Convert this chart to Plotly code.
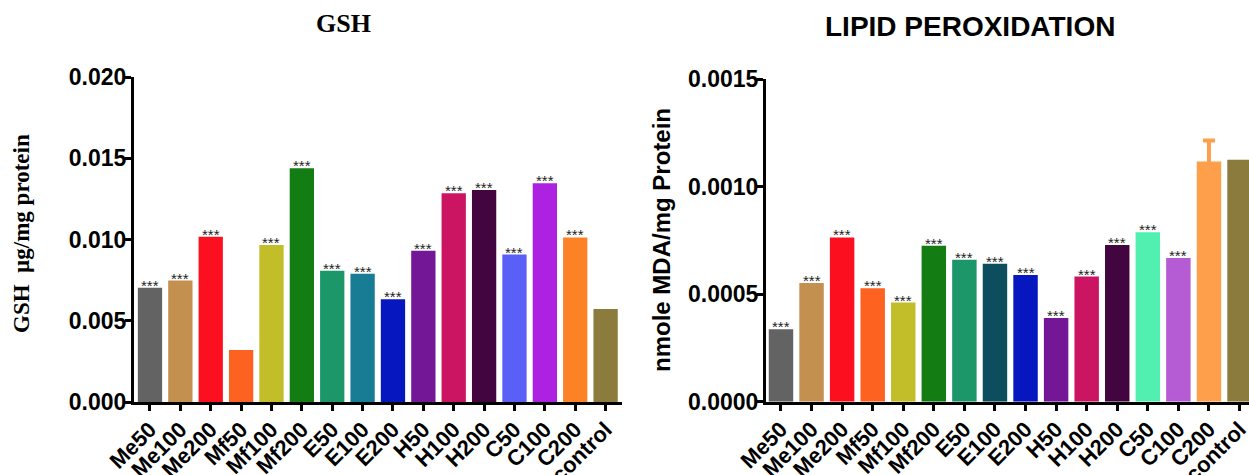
import plotly.graph_objects as go

categories = ["Me50", "Me100", "Me200", "Mf50", "Mf100", "Mf200", "E50", "E100",
              "E200", "H50", "H100", "H200", "C50", "C100", "C200", "control"]

gsh_values = [0.00703, 0.00747, 0.01017, 0.00320, 0.00966, 0.01438, 0.00808, 0.00790,
              0.00632, 0.00931, 0.01284, 0.01305, 0.00907, 0.01346, 0.01013, 0.00572]
gsh_sig = ["***", "***", "***", "", "***", "***", "***", "***",
           "***", "***", "***", "***", "***", "***", "***", ""]

lpo_values = [0.000337, 0.000552, 0.000764, 0.000528, 0.000461, 0.000725, 0.000660, 0.000642,
              0.000590, 0.000389, 0.000582, 0.000729, 0.000788, 0.000668, 0.001118, 0.001126]
lpo_sig = ["***", "***", "***", "***", "***", "***", "***", "***",
           "***", "***", "***", "***", "***", "***", "", ""]
lpo_err_category = ["C200"]
lpo_err_mean = [0.001118]
lpo_err_value = [0.000097]

gsh_colors = ["#636363", "#c49050", "#fc1020", "#fd6220", "#c2be2a", "#137d13", "#1c9769", "#187c94",
              "#0617bf", "#741797", "#cc1562", "#420540", "#5a60f5", "#ac22e0", "#fd8226", "#8b7b3c"]
lpo_colors = ["#636363", "#c49050", "#fc1020", "#fd6220", "#c2be2a", "#137d13", "#1c9769", "#0d4e5e",
              "#0617bf", "#741797", "#cc1562", "#420540", "#52f0b0", "#b55bd3", "#fe9f4c", "#8b7b3c"]

W, H = 1249, 475

fig = go.Figure()
fig.add_trace(go.Bar(x=categories, y=gsh_values, marker=dict(color=gsh_colors, line=dict(width=0)),
                     xaxis="x", yaxis="y", showlegend=False))
fig.add_trace(go.Bar(x=categories, y=lpo_values, marker=dict(color=lpo_colors, line=dict(width=0)),
                     xaxis="x2", yaxis="y2", showlegend=False))
fig.add_trace(go.Scatter(x=lpo_err_category, y=lpo_err_mean, mode="markers",
                         marker=dict(size=1, opacity=0),
                         error_y=dict(type="data", array=lpo_err_value, visible=True,
                                      color="#fe9f4c", thickness=4, width=6),
                         xaxis="x2", yaxis="y2", showlegend=False, hoverinfo="skip"))

annotations = []
for c, v, s in zip(categories, gsh_values, gsh_sig):
    if s:
        annotations.append(dict(x=c, y=v, xref="x", yref="y", text=s, showarrow=False,
                                yanchor="bottom", yshift=-8,
                                font=dict(family="Arial", size=15, color="#222")))
for c, v, s in zip(categories, lpo_values, lpo_sig):
    if s:
        annotations.append(dict(x=c, y=v, xref="x2", yref="y2", text=s, showarrow=False,
                                yanchor="bottom", yshift=-8,
                                font=dict(family="Arial", size=15, color="#222")))

annotations += [
    dict(x=343.5 / W, y=1 - 24 / H, xref="paper", yref="paper", text="<b>GSH</b>", showarrow=False,
         xanchor="center", yanchor="middle", font=dict(family="Liberation Serif", size=26, color="black")),
    dict(x=970 / W, y=1 - 26 / H, xref="paper", yref="paper", text="<b>LIPID PEROXIDATION</b>",
         showarrow=False, xanchor="center", yanchor="middle",
         font=dict(family="Arial", size=28, color="black")),
    dict(x=21 / W, y=1 - 234 / H, xref="paper", yref="paper", text="<b>GSH  µg/mg protein</b>",
         showarrow=False, textangle=-90, xanchor="center", yanchor="middle",
         font=dict(family="Liberation Serif", size=23, color="black")),
    dict(x=661 / W, y=1 - 240 / H, xref="paper", yref="paper", text="<b>nmole MDA/mg Protein</b>",
         showarrow=False, textangle=-90, xanchor="center", yanchor="middle",
         font=dict(family="Arial", size=24, color="black")),
]

tickfont_y = dict(family="Arial", size=23, color="black", weight="bold")
tickfont_x = dict(family="Arial", size=22, color="black", weight="bold")

common_x = dict(type="category", categoryorder="array", categoryarray=categories,
                showline=True, linecolor="black", linewidth=3, ticks="outside",
                ticklen=6, tickwidth=3, tickcolor="black", tickangle=-45, tickfont=tickfont_x,
                ticklabelstandoff=-3,
                showgrid=False, zeroline=False, fixedrange=True, automargin=False)
common_y = dict(showline=True, linecolor="black", linewidth=3, ticks="outside", ticklen=6,
                tickwidth=3, tickcolor="black", tickfont=tickfont_y, ticklabelstandoff=-6,
                showgrid=False, zeroline=False, fixedrange=True, automargin=False)

fig.update_layout(
    width=W, height=H,
    margin=dict(l=0, r=0, t=0, b=0, autoexpand=False),
    paper_bgcolor="white", plot_bgcolor="white",
    bargap=0.2,
    xaxis=dict(domain=[134 / W, 622 / W], range=[-0.526, 15.54], anchor="y", **common_x),
    yaxis=dict(domain=[1 - 402 / H, 1 - 77 / H], range=[0, 0.020], anchor="x",
               tickvals=[0, 0.005, 0.010, 0.015, 0.020], tickformat=".3f", **common_y),
    xaxis2=dict(domain=[766 / W, 1.0], range=[-0.49, 15.31], anchor="y2", **common_x),
    yaxis2=dict(domain=[1 - 401.7 / H, 1 - 79.3 / H], range=[0, 0.0015], anchor="x2",
                tickvals=[0, 0.0005, 0.0010, 0.0015], tickformat=".4f", **common_y),
    annotations=annotations,
)

fig.write_html("out.html", config={"displayModeBar": False},
               post_script="document.body.style.margin='0px';")
